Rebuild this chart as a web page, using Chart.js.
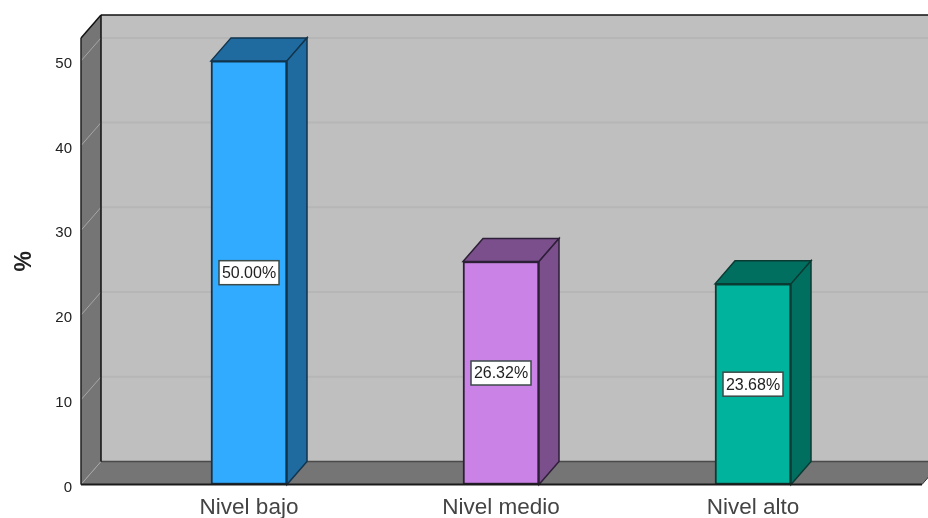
<!DOCTYPE html>
<html>
<head>
<meta charset="utf-8">
<title>Nivel</title>
<script src="https://cdn.jsdelivr.net/npm/chart.js@4"></script>
<style>
  html, body { margin: 0; padding: 0; background: #fff; }
  #wrap { width: 928px; height: 518px; }
</style>
</head>
<body>
<div id="wrap"><canvas id="chart" width="928" height="518"></canvas></div>
<script>
// --- Data ---
const categories = ["Nivel bajo", "Nivel medio", "Nivel alto"];
const percents = [50.00, 26.32, 23.68];
const yTicks = [0, 10, 20, 30, 40, 50];

// --- Colours ---
const frontColors = ["#31abff", "#cb82e6", "#00b39d"];
const shadeColors = ["#1f6a9e", "#7b4f8c", "#006f60"];
const edgeColors = ["#12344d", "#2e1f38", "#0b3a33"];

// Depth of the fake 3D box
const DEPTH_X = 20;
const DEPTH_Y = 23;

function fillPoly(ctx, pts, color) {
  ctx.beginPath();
  pts.forEach((p, i) => (i ? ctx.lineTo(p[0], p[1]) : ctx.moveTo(p[0], p[1])));
  ctx.closePath();
  ctx.fillStyle = color;
  ctx.fill();
}

function strokeLine(ctx, x1, y1, x2, y2, color, width) {
  ctx.beginPath();
  ctx.moveTo(x1, y1);
  ctx.lineTo(x2, y2);
  ctx.strokeStyle = color;
  ctx.lineWidth = width;
  ctx.stroke();
}

// Back wall, left wall, floor and their gridlines
const wallsPlugin = {
  id: "walls",
  beforeDatasetsDraw(chart) {
    const { ctx, chartArea: a, scales: { y } } = chart;
    const bx = a.left + DEPTH_X;
    const by = a.bottom - DEPTH_Y;
    const topY = a.top - DEPTH_Y;
    ctx.save();
    fillPoly(ctx, [[bx, topY], [chart.width, topY], [chart.width, by], [bx, by]], "#bfbfbf");
    fillPoly(ctx, [[a.left, a.top], [bx, topY], [bx, by], [a.left, a.bottom]], "#757575");
    fillPoly(ctx, [[a.left, a.bottom], [bx, by], [a.right + DEPTH_X, by], [a.right, a.bottom]], "#757575");

    yTicks.forEach(t => {
      const py = y.getPixelForValue(t);
      if (t > 0) strokeLine(ctx, bx, py - DEPTH_Y, chart.width, py - DEPTH_Y, "#b6b6b6", 2);
      strokeLine(ctx, a.left, py, bx, py - DEPTH_Y, "#a6a6a6", 1);
    });

    strokeLine(ctx, bx, by, chart.width, by, "#4a4a4a", 1.5);
    strokeLine(ctx, a.left, a.top, bx, topY, "#111", 1.5);
    strokeLine(ctx, bx, topY, chart.width, topY, "#111", 1.5);
    strokeLine(ctx, bx, topY, bx, by, "#111", 1.5);
    strokeLine(ctx, a.left, a.top, a.left, a.bottom, "#222", 1.5);
    ctx.restore();
  }
};

// Top and side faces of the bars, then the value boxes
const boxPlugin = {
  id: "boxes",
  afterDatasetsDraw(chart) {
    const { ctx, chartArea: a } = chart;
    const bars = chart.getDatasetMeta(0).data;
    ctx.save();
    bars.forEach((bar, i) => {
      const left = bar.x - bar.width / 2;
      const right = bar.x + bar.width / 2;
      const top = bar.y;
      const base = bar.base;
      const topFace = [[left, top], [left + DEPTH_X, top - DEPTH_Y], [right + DEPTH_X, top - DEPTH_Y], [right, top]];
      const sideFace = [[right, top], [right + DEPTH_X, top - DEPTH_Y], [right + DEPTH_X, base - DEPTH_Y], [right, base]];
      [topFace, sideFace].forEach(face => {
        fillPoly(ctx, face, shadeColors[i]);
        ctx.strokeStyle = edgeColors[i];
        ctx.lineWidth = 1.5;
        ctx.stroke();
      });
    });

    // Front axis line runs over the feet of the bars
    strokeLine(ctx, a.left, a.bottom, a.right, a.bottom, "#1a1a1a", 2);
    strokeLine(ctx, a.right, a.bottom, a.right + DEPTH_X, a.bottom - DEPTH_Y, "#333", 1);

    bars.forEach((bar, i) => {
      const w = 60, h = 24;
      const cy = (bar.y + bar.base) / 2;
      ctx.fillStyle = "#fff";
      ctx.fillRect(bar.x - w / 2, cy - h / 2, w, h);
      ctx.strokeStyle = "#3c4a48";
      ctx.lineWidth = 1.5;
      ctx.strokeRect(bar.x - w / 2, cy - h / 2, w, h);
      ctx.fillStyle = "#222";
      ctx.font = "16px 'Liberation Sans', Arial, sans-serif";
      ctx.textAlign = "center";
      ctx.textBaseline = "middle";
      ctx.fillText(percents[i].toFixed(2) + "%", bar.x, cy + 1);
    });
    ctx.restore();
  }
};

new Chart(document.getElementById("chart"), {
  type: "bar",
  data: {
    datasets: [{
      data: percents.map((v, i) => ({ x: i, y: v })),
      backgroundColor: frontColors,
      borderColor: edgeColors,
      borderWidth: 2,
      borderSkipped: false,
      barThickness: 76
    }]
  },
  plugins: [wallsPlugin, boxPlugin],
  options: {
    responsive: false,
    animation: false,
    layout: { padding: { top: 38, right: 6, left: 0, bottom: 0 } },
    plugins: { legend: { display: false }, tooltip: { enabled: false } },
    scales: {
      x: {
        type: "linear",
        offset: false,
        min: -0.6667,
        max: 2.6706,
        grid: { display: false },
        border: { display: false },
        afterBuildTicks: s => { s.ticks = categories.map((_, i) => ({ value: i })); },
        afterFit: s => { s.height = 33.5; },
        ticks: {
          autoSkip: false,
          maxRotation: 0,
          padding: 2,
          color: "#444",
          font: { family: "'Liberation Sans', Arial, sans-serif", size: 22.5 },
          callback: v => categories[v]
        }
      },
      y: {
        min: 0,
        max: 52.7,
        grid: { display: false },
        border: { display: false },
        afterBuildTicks: s => { s.ticks = yTicks.map(v => ({ value: v })); },
        afterFit: s => { s.width = 81; },
        title: {
          display: true,
          text: "%",
          color: "#222",
          padding: { top: 11, bottom: 0 },
          font: { family: "'Liberation Sans', Arial, sans-serif", size: 23, weight: "bold" }
        },
        ticks: {
          padding: 1,
          labelOffset: 3,
          color: "#222",
          font: { family: "'Liberation Sans', Arial, sans-serif", size: 15 }
        }
      }
    }
  }
});
</script>
</body>
</html>
